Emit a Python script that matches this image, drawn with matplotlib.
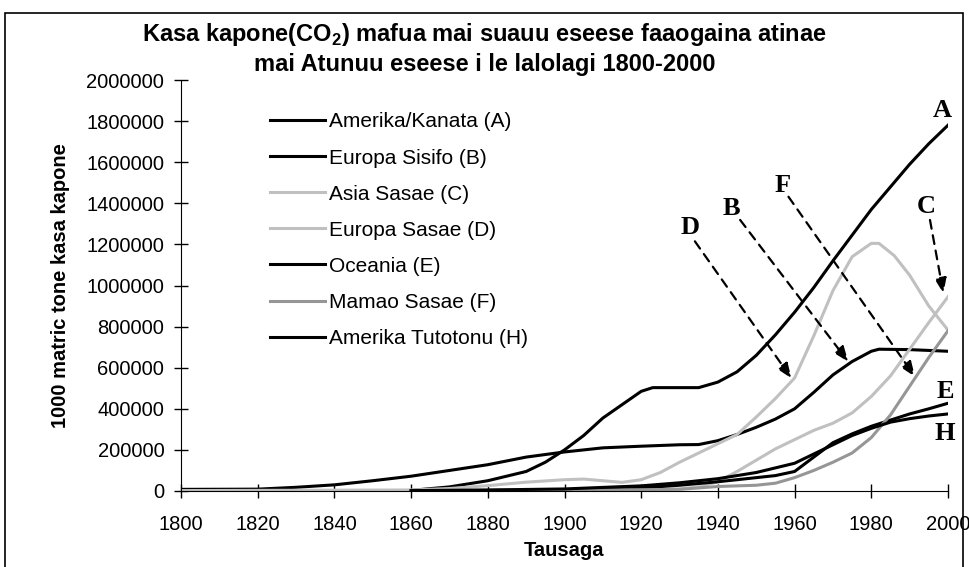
import matplotlib.pyplot as plt
from matplotlib.patches import Rectangle

plt.rcParams['font.family'] = ['Liberation Sans', 'DejaVu Sans']
plt.rcParams['mathtext.fontset'] = 'custom'
plt.rcParams['mathtext.rm'] = 'Liberation Sans'
plt.rcParams['mathtext.bf'] = 'Liberation Sans:bold'

# Amerika/Kanata (A)
yrs_a = [1860, 1870, 1880, 1890, 1895, 1900, 1905, 1910, 1915, 1920, 1923, 1935, 1940,
         1945, 1950, 1955, 1960, 1965, 1970, 1975, 1980, 1985, 1990, 1995, 2000]
val_a = [3000, 20000, 50000, 95000, 140000, 200000, 270000, 355000, 420000, 485000, 503000,
         503000, 530000, 580000, 660000, 760000, 870000, 990000, 1120000, 1245000, 1370000,
         1480000, 1590000, 1690000, 1780000]
# Europa Sisifo (B)
yrs_b = [1800, 1820, 1830, 1840, 1850, 1860, 1870, 1880, 1890, 1900, 1910, 1920, 1930, 1935,
         1940, 1945, 1950, 1955, 1960, 1965, 1970, 1975, 1980, 1982, 1990, 2000]
val_b = [8000, 9000, 18000, 30000, 50000, 72000, 100000, 128000, 165000, 190000, 210000,
         218000, 225000, 226000, 245000, 275000, 310000, 350000, 400000, 480000, 565000,
         630000, 680000, 690000, 688000, 680000]
# Asia Sasae (C)
yrs_c = [1900, 1920, 1930, 1935, 1940, 1945, 1950, 1955, 1960, 1965, 1970, 1975, 1980,
         1985, 1990, 1995, 2000]
val_c = [2000, 3000, 10000, 20000, 45000, 95000, 150000, 205000, 250000, 295000, 330000,
         380000, 460000, 560000, 690000, 820000, 945000]
# Europa Sasae (D)
yrs_d = [1800, 1860, 1870, 1880, 1890, 1900, 1905, 1910, 1915, 1920, 1925, 1930, 1935, 1940,
         1945, 1950, 1955, 1960, 1965, 1970, 1975, 1980, 1982, 1986, 1990, 1995, 2000]
val_d = [2000, 5000, 12000, 26000, 43000, 55000, 58000, 50000, 42000, 55000, 90000, 140000,
         185000, 230000, 275000, 360000, 450000, 550000, 755000, 975000, 1140000, 1205000,
         1205000, 1145000, 1050000, 900000, 783000]
# Oceania (E)
yrs_e = [1860, 1900, 1920, 1930, 1940, 1950, 1955, 1960, 1965, 1970, 1975, 1980, 1985,
         1990, 1995, 2000]
val_e = [1000, 5000, 15000, 28000, 45000, 65000, 75000, 95000, 165000, 235000, 278000,
         315000, 345000, 375000, 400000, 427000]
# Mamao Sasae (F)
yrs_f = [1860, 1900, 1930, 1940, 1950, 1955, 1960, 1965, 1970, 1975, 1980, 1985, 1990,
         1995, 2000]
val_f = [1000, 3000, 8000, 22000, 28000, 38000, 65000, 100000, 140000, 185000, 260000,
         370000, 510000, 650000, 780000]
# Amerika Tutotonu (H)
yrs_h = [1860, 1880, 1900, 1920, 1930, 1940, 1950, 1960, 1970, 1975, 1980, 1985, 1990,
         1995, 2000]
val_h = [2000, 5000, 10000, 25000, 40000, 60000, 90000, 135000, 225000, 270000, 305000,
         335000, 352000, 365000, 375000]

names = ['Amerika/Kanata (A)', 'Europa Sisifo (B)', 'Asia Sasae (C)', 'Europa Sasae (D)',
         'Oceania (E)', 'Mamao Sasae (F)', 'Amerika Tutotonu (H)']
colors = ['black', 'black', '#c0c0c0', '#c0c0c0', 'black', '#969696', 'black']
series = [(yrs_a, val_a), (yrs_b, val_b), (yrs_c, val_c), (yrs_d, val_d),
          (yrs_e, val_e), (yrs_f, val_f), (yrs_h, val_h)]

# letter labels and dashed arrows (label pos, arrow start, arrow tip)
letters = ['A', 'C', 'D', 'B', 'F', 'E', 'H']
letter_pos = [(1998.4, 1854000), (1994.4, 1383000), (1932.7, 1280000), (1943.6, 1375000),
              (1957.0, 1489000), (1999.2, 483000), (1999.2, 281000)]
arrow_from = [(1995.3, 1319000), (1934.0, 1215000), (1945.8, 1319000), (1958.4, 1432000)]
arrow_to = [(1998.8, 962000), (1959.2, 548000), (1974.0, 629000), (1991.4, 556000)]

fig = plt.figure(figsize=(9.69, 5.67), dpi=100)
ax = fig.add_axes([181 / 969, 1 - 491 / 567, 767 / 969, 411 / 567])

for (x, y), c, n in zip(series, colors, names):
    ax.plot(x, y, color=c, lw=2.2, label=n, solid_joinstyle='round')

ax.set_xlim(1800, 2000)
ax.set_ylim(0, 2000000)
ax.set_xticks(range(1800, 2001, 20))
ax.set_yticks(range(0, 2000001, 200000))
ax.set_yticklabels([str(v) for v in range(0, 2000001, 200000)])
ax.tick_params(direction='inout', length=10, width=1, labelsize=14.5, pad=7)
ax.tick_params(axis='x', pad=12)
for s in ['top', 'right']:
    ax.spines[s].set_visible(False)
ax.set_xlabel('Tausaga', fontsize=14.5, fontweight='bold', labelpad=5)
ax.set_ylabel('1000 matric tone kasa kapone', fontsize=14.5, fontweight='bold', labelpad=12)

for t, (x, y) in zip(letters, letter_pos):
    ax.text(x, y, t, family='Liberation Serif', fontweight='bold', fontsize=19,
            ha='center', va='center')
for s, e in zip(arrow_from, arrow_to):
    ax.annotate('', xy=e, xytext=s,
                arrowprops=dict(arrowstyle='-|>,head_length=0.9,head_width=0.35',
                                color='black', lw=1.6, ls=(0, (4, 3)),
                                shrinkA=0, shrinkB=0))

ax.legend(loc='upper left', bbox_to_anchor=(260 / 969, 1 - 102 / 567),
          bbox_transform=fig.transFigure, frameon=False, fontsize=15,
          handlelength=2.6, handletextpad=0.2, labelspacing=0.82, borderpad=0)

fig.text(0.5, 1 - 35 / 567, 'Kasa kapone(CO$_\\mathbf{2}$) mafua mai suauu eseese faaogaina atinae',
         ha='center', va='center', fontsize=17, fontweight='bold')
fig.text(0.5, 1 - 65 / 567, 'mai Atunuu eseese i le lalolagi 1800-2000',
         ha='center', va='center', fontsize=17, fontweight='bold')

fig.patches.append(Rectangle((5 / 969, -0.1), 958 / 969, 1.1 - 13 / 567,
                             transform=fig.transFigure, fill=False, lw=1.2,
                             edgecolor='black'))

fig.savefig('out.png', dpi=100)
